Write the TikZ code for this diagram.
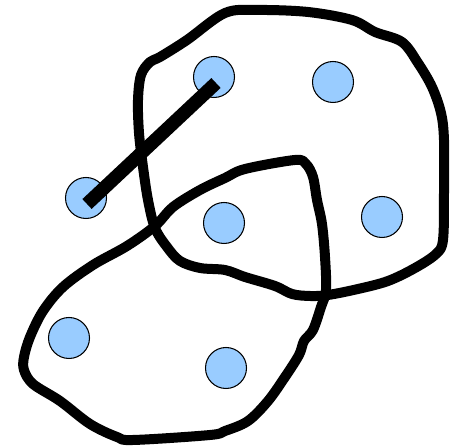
\documentclass[tikz,border=0pt]{standalone}
\begin{document}
\begin{tikzpicture}[x=0.02cm,y=-0.02cm,
  dot/.style={circle,draw=black,line width=0.6pt,fill=dotblue,minimum size=0.82cm,inner sep=0pt},
  blob/.style={line width=0.2cm,line join=round,smooth cycle,tension=0.55},
  link/.style={line width=0.27cm}]
\definecolor{dotblue}{HTML}{99CCFF}
\useasboundingbox (0,0) rectangle (450,448);
% upper-right region
\draw[blob] plot coordinates {(225,13) (258,10) (308,12) (352,20) (375,32) (402,42) (418,63) (432,87) (441,113) (444,140) (444,193) (443,240) (436,254) (415,268) (388,281) (358,289) (328,295) (310,296) (292,294) (275,286) (245,277) (225,270) (200,268) (180,261) (167,247) (155,228) (148,200) (143,167) (139,133) (138,100) (141,75) (150,62) (160,57) (187,40)};
% lower-left region
\draw[blob] plot coordinates {(295,160) (306,164) (313,177) (317,200) (322,224) (325,257) (326,290) (321,307) (313,330) (304,341) (299,355) (285,377) (268,401) (248,421) (225,431) (210,435) (133,440) (117,437) (90,424) (60,401) (33,384) (24,370) (24,357) (30,337) (43,311) (63,287) (93,265) (127,246) (155,226) (173,207) (200,190) (225,178) (245,169)};
\node[dot] (a) at (214,77) {};
\node[dot] (b) at (333,82) {};
\node[dot] (c) at (86,198) {};
\node[dot] (d) at (224,223) {};
\node[dot] (e) at (382,217) {};
\node[dot] (f) at (69,338) {};
\node[dot] (g) at (226,368) {};
\draw[link] ([shift={(2,6)}]a.center) -- ([shift={(1,6)}]c.center);
\end{tikzpicture}
\end{document}
